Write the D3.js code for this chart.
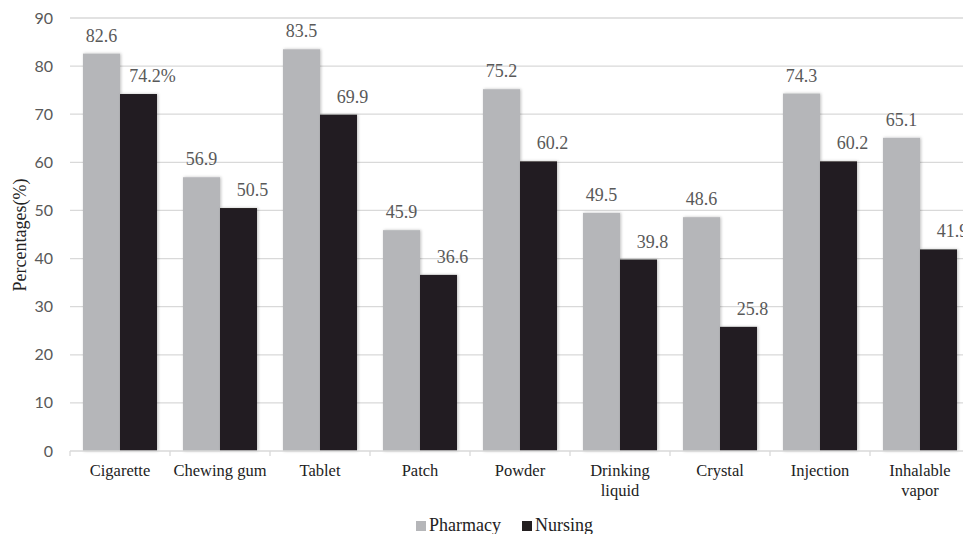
<!DOCTYPE html>
<html>
<head>
<meta charset="utf-8">
<script src="https://cdn.jsdelivr.net/npm/d3@7"></script>
<style>
  body { margin: 0; background: #fff; }
  svg { display: block; }
</style>
</head>
<body>
<div id="chart-area"></div>
<script>
// DATA
const categories = ['Cigarette', 'Chewing gum', 'Tablet', 'Patch', 'Powder', 'Drinking liquid', 'Crystal', 'Injection', 'Inhalable vapor']
const pharmacy = [82.6, 56.9, 83.5, 45.9, 75.2, 49.5, 48.6, 74.3, 65.1]
const nursing = [74.2, 50.5, 69.9, 36.6, 60.2, 39.8, 25.8, 60.2, 41.9]
const nursingLabels = ['74.2%', '50.5', '69.9', '36.6', '60.2', '39.8', '25.8', '60.2', '41.9']
const yTicks = [0, 10, 20, 30, 40, 50, 60, 70, 80, 90]
const series = ['Pharmacy', 'Nursing']
const colors = ['#b5b6b9', '#231f20']

const W = 963, H = 534
const SERIF = '"Liberation Serif"'
const SANS = '"Lato"'

// CREATE SVG
const svg = d3.select('#chart-area')
              .append('svg')
              .attr('width', W)
              .attr('height', H)

const defs = svg.append('defs')
const f = defs.append('filter').attr('id', 'shadow')
              .attr('x', '-20%').attr('y', '-20%').attr('width', '140%').attr('height', '140%')
f.append('feDropShadow').attr('dx', 1).attr('dy', 0).attr('stdDeviation', 1.5)
 .attr('flood-color', '#000').attr('flood-opacity', 0.25)

// SCALES
const x = d3.scaleBand()
            .domain(categories)
            .range([70, 970])

const inner = d3.scaleBand()
                .domain(series)
                .range([13, 87])

const y = d3.scaleLinear()
            .domain([0, 90])
            .range([451, 18])

// GRIDLINES
svg.selectAll('line.grid')
   .data(yTicks.slice(1))
   .enter()
   .append('line')
   .attr('class', 'grid')
   .attr('x1', 70)
   .attr('x2', W)
   .attr('y1', d => y(d))
   .attr('y2', d => y(d))
   .attr('stroke', '#d9d9d9')
   .attr('stroke-width', 1.3)

// Y TICK LABELS
svg.selectAll('text.ytick')
   .data(yTicks)
   .enter()
   .append('text')
   .attr('class', 'ytick')
   .attr('x', 53)
   .attr('y', d => y(d) + 5.5)
   .attr('text-anchor', 'end')
   .style('font-family', SANS)
   .attr('font-size', 16)
   .attr('fill', '#595959')
   .text(d => d)

// Y TITLE
svg.append('text')
   .attr('transform', 'translate(26,235) rotate(-90)')
   .attr('text-anchor', 'middle')
   .style('font-family', SERIF)
   .attr('font-size', 18)
   .attr('fill', '#222')
   .text('Percentages(%)')

// BARS
const groups = svg.selectAll('g.group')
                  .data(categories)
                  .enter()
                  .append('g')
                  .attr('class', 'group')
                  .attr('transform', d => `translate(${x(d)},0)`)

groups.append('rect')
      .attr('x', inner('Pharmacy'))
      .attr('y', (d, i) => y(pharmacy[i]))
      .attr('width', inner.bandwidth())
      .attr('height', (d, i) => y(0) - y(pharmacy[i]))
      .attr('fill', colors[0])
      .attr('filter', 'url(#shadow)')

groups.append('rect')
      .attr('x', inner('Nursing'))
      .attr('y', (d, i) => y(nursing[i]))
      .attr('width', inner.bandwidth())
      .attr('height', (d, i) => y(0) - y(nursing[i]))
      .attr('fill', colors[1])
      .attr('filter', 'url(#shadow)')

// VALUE LABELS
groups.append('text')
      .attr('x', inner('Pharmacy') + inner.bandwidth() / 2)
      .attr('y', (d, i) => y(pharmacy[i]) - 12)
      .attr('text-anchor', 'middle')
      .style('font-family', SERIF)
      .attr('font-size', 18)
      .attr('fill', '#595959')
      .text((d, i) => pharmacy[i])

groups.append('text')
      .attr('x', inner('Nursing') + inner.bandwidth() / 2 + 14)
      .attr('y', (d, i) => y(nursing[i]) - 12)
      .attr('text-anchor', 'middle')
      .style('font-family', SERIF)
      .attr('font-size', 18)
      .attr('fill', '#595959')
      .text((d, i) => nursingLabels[i])

// X AXIS LINE + TICKS
svg.append('line')
   .attr('x1', 70).attr('x2', W)
   .attr('y1', y(0)).attr('y2', y(0))
   .attr('stroke', '#d9d9d9')
   .attr('stroke-width', 1.3)

svg.selectAll('line.xtick')
   .data(categories)
   .enter()
   .append('line')
   .attr('class', 'xtick')
   .attr('x1', d => x(d)).attr('x2', d => x(d))
   .attr('y1', y(0)).attr('y2', y(0) + 5)
   .attr('stroke', '#d9d9d9')
   .attr('stroke-width', 1.3)

// CATEGORY LABELS (wrap two-word names except Chewing gum)
groups.append('text')
      .attr('text-anchor', 'middle')
      .style('font-family', SERIF)
      .attr('font-size', 16.5)
      .attr('fill', '#222')
      .each(function (d) {
          const lines = (d === 'Chewing gum') ? [d] : d.split(' ')
          d3.select(this).selectAll('tspan')
            .data(lines)
            .enter()
            .append('tspan')
            .attr('x', x.bandwidth() / 2)
            .attr('y', (l, j) => 476 + j * 20)
            .text(l => l)
      })

// LEGEND
const legend = svg.append('g')
const legendX = [416, 522]
series.forEach((s, i) => {
    legend.append('rect')
          .attr('x', legendX[i])
          .attr('y', 521)
          .attr('width', 10)
          .attr('height', 10)
          .attr('fill', colors[i])
    legend.append('text')
          .attr('x', legendX[i] + 13)
          .attr('y', 531)
          .style('font-family', SERIF)
          .attr('font-size', 18)
          .attr('fill', '#222')
          .text(s)
})
</script>
</body>
</html>
